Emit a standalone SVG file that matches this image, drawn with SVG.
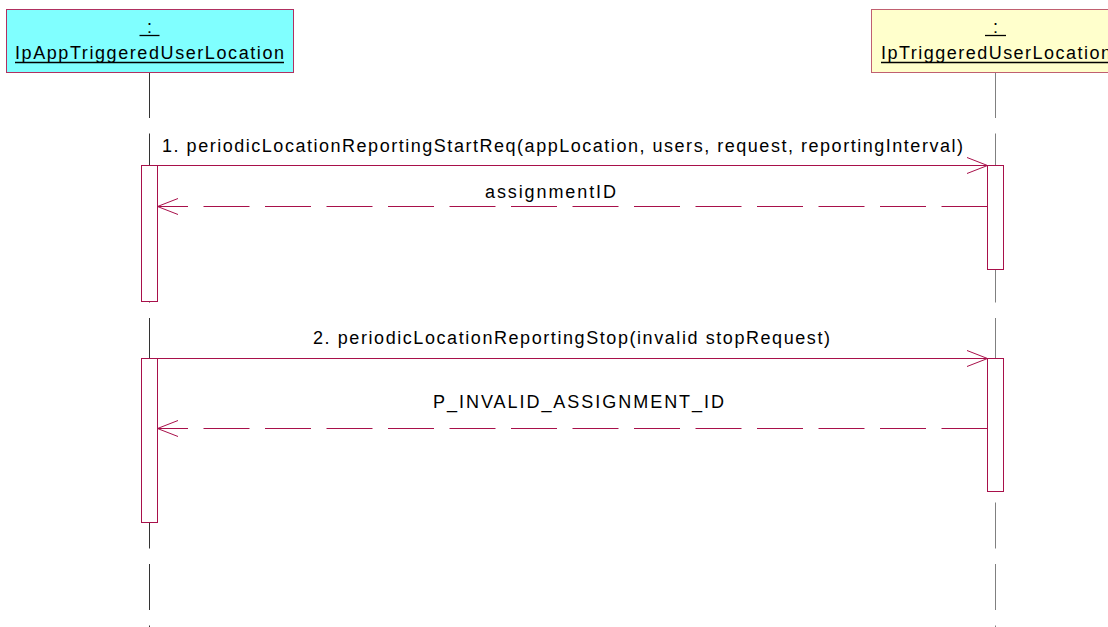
<svg xmlns="http://www.w3.org/2000/svg" width="1108" height="627" viewBox="0 0 1108 627">
<defs>
<style>
.txt{font-family:"Liberation Sans",Arial,sans-serif;font-size:18px;fill:#000}
.life{stroke:#555;stroke-width:1;fill:none;stroke-dasharray:46 15.5}
.act{fill:#fff;stroke:#A8104A;stroke-width:1}
.msg{stroke:#A8104A;stroke-width:1;fill:none}
.ret{stroke:#A8104A;stroke-width:1;fill:none;stroke-dasharray:46 15.5}
.ul{stroke:#000;stroke-width:1.3}
</style>
</defs>
<rect width="1108" height="627" fill="#fff"/>
<g id="lifelines">
<line class="life" x1="149.5" y1="72" x2="149.5" y2="627" style="stroke:#333"/>
<line class="life" x1="995.5" y1="72" x2="995.5" y2="627" style="stroke:#808080"/>
</g>
<g id="node-app">
<rect x="6.5" y="9.5" width="287" height="63" fill="#80FFFF" stroke="#B03060" stroke-width="1"/>
<text class="txt" x="149.5" y="33" text-anchor="middle">:</text>
<line class="ul" x1="139.5" y1="35.5" x2="159.5" y2="35.5"/>
<text class="txt" x="15" y="59" textLength="269" lengthAdjust="spacing">IpAppTriggeredUserLocation</text>
<line class="ul" x1="15" y1="62.5" x2="284" y2="62.5"/>
</g>
<g id="node-svc">
<rect x="871.5" y="9.5" width="250" height="63" fill="#FFFFCC" stroke="#C06070" stroke-width="1"/>
<text class="txt" x="995.5" y="33" text-anchor="middle">:</text>
<line class="ul" x1="985" y1="35.5" x2="1006" y2="35.5"/>
<text class="txt" x="881" y="59" textLength="230" lengthAdjust="spacing">IpTriggeredUserLocation</text>
<line class="ul" x1="881" y1="62.5" x2="1111" y2="62.5"/>
</g>
<g id="activations">
<rect class="act" x="141.5" y="165.5" width="16" height="136"/>
<rect class="act" x="987.5" y="165.5" width="16" height="104"/>
<rect class="act" x="141.5" y="358.5" width="16" height="164"/>
<rect class="act" x="987.5" y="358.5" width="16" height="133"/>
</g>
<g id="connectors">
<line class="msg" x1="157.5" y1="165.5" x2="987.5" y2="165.5"/>
<polyline class="msg" points="967,157.5 987.5,165.5 967,173.5"/>
<line class="ret" x1="987.5" y1="206.5" x2="157.5" y2="206.5"/>
<polyline class="msg" points="178,198.5 157.5,206.5 178,214.5"/>
<line class="msg" x1="157.5" y1="358.5" x2="987.5" y2="358.5"/>
<polyline class="msg" points="967,350.5 987.5,358.5 967,366.5"/>
<line class="ret" x1="987.5" y1="428.5" x2="157.5" y2="428.5"/>
<polyline class="msg" points="178,420.5 157.5,428.5 178,436.5"/>
</g>
<g id="labels">
<text class="txt" x="162" y="152" textLength="801" lengthAdjust="spacing">1. periodicLocationReportingStartReq(appLocation, users, request, reportingInterval)</text>
<text class="txt" x="485" y="198" textLength="131" lengthAdjust="spacing">assignmentID</text>
<text class="txt" x="313" y="343.5" textLength="517" lengthAdjust="spacing">2. periodicLocationReportingStop(invalid stopRequest)</text>
<text class="txt" x="433" y="407.5" textLength="291" lengthAdjust="spacing">P_INVALID_ASSIGNMENT_ID</text>
</g>
</svg>
